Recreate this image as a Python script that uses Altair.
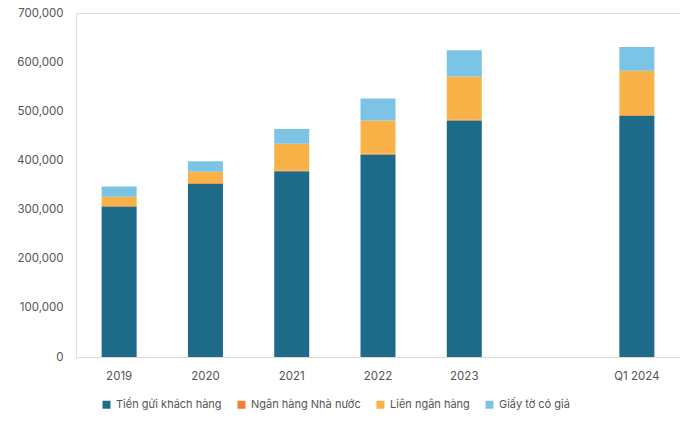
import altair as alt
import pandas as pd

categories = ["2019", "2020", "2021", "2022", "2023", "Q1 2024"]
axis_domain = ["2019", "2020", "2021", "2022", "2023", " ", "Q1 2024"]
series = ["Tiền gửi khách hàng", "Ngân hàng Nhà nước", "Liên ngân hàng", "Giấy tờ có giá"]
colors = ["#1d6a89", "#f07f33", "#f9b248", "#7bc4e5"]

tien_gui = [306000, 352500, 378000, 412000, 481500, 491000]
nhnn = [1500, 1500, 1500, 1500, 1500, 1500]
lien_ngan_hang = [18500, 23000, 54500, 67500, 88000, 90000]
giay_to = [21000, 21500, 30000, 45000, 53000, 48500]

values = [tien_gui, nhnn, lien_ngan_hang, giay_to]
rows = []
for si, s in enumerate(series):
    for ci, c in enumerate(categories):
        rows.append({"cat": c, "series": s, "value": values[si][ci], "ord": si})
df = pd.DataFrame(rows)

FONT = "Inter"

chart = alt.Chart(df).mark_bar(size=35).encode(
    x=alt.X("cat:N", scale=alt.Scale(domain=axis_domain, paddingInner=0.6, paddingOuter=0.3),
            axis=alt.Axis(title=None, labelAngle=0, ticks=False, domainColor="#d9d9d9",
                          labelColor="#555555", labelFontSize=11.5, labelPadding=13, labelFont=FONT)),
    y=alt.Y("value:Q", stack="zero", scale=alt.Scale(domain=[0, 700000], nice=False),
            axis=alt.Axis(title=None, values=[0, 100000, 200000, 300000, 400000, 500000, 600000, 700000],
                          format=",.0f", grid=False, domain=False, ticks=False, labelPadding=13,
                          labelColor="#555555", labelFontSize=11.5, labelFont=FONT)),
    color=alt.Color("series:N", scale=alt.Scale(domain=series, range=colors),
                    legend=alt.Legend(title=None, orient="none", direction="horizontal", columns=4,
                                      legendX=25, legendY=386, symbolType="square", symbolSize=64,
                                      symbolStrokeWidth=0, labelFontSize=11, labelColor="#555555",
                                      labelFont=FONT, columnPadding=14, labelOffset=4)),
    order=alt.Order("ord:Q"),
).properties(
    width=604, height=344, autosize=alt.AutoSizeParams(type="none"),
    padding={"left": 76, "top": 13, "right": 0, "bottom": 70},
).configure_view(stroke=None).configure(background="white")

chart.save("out.html", embed_options={"renderer": "svg", "actions": False})
